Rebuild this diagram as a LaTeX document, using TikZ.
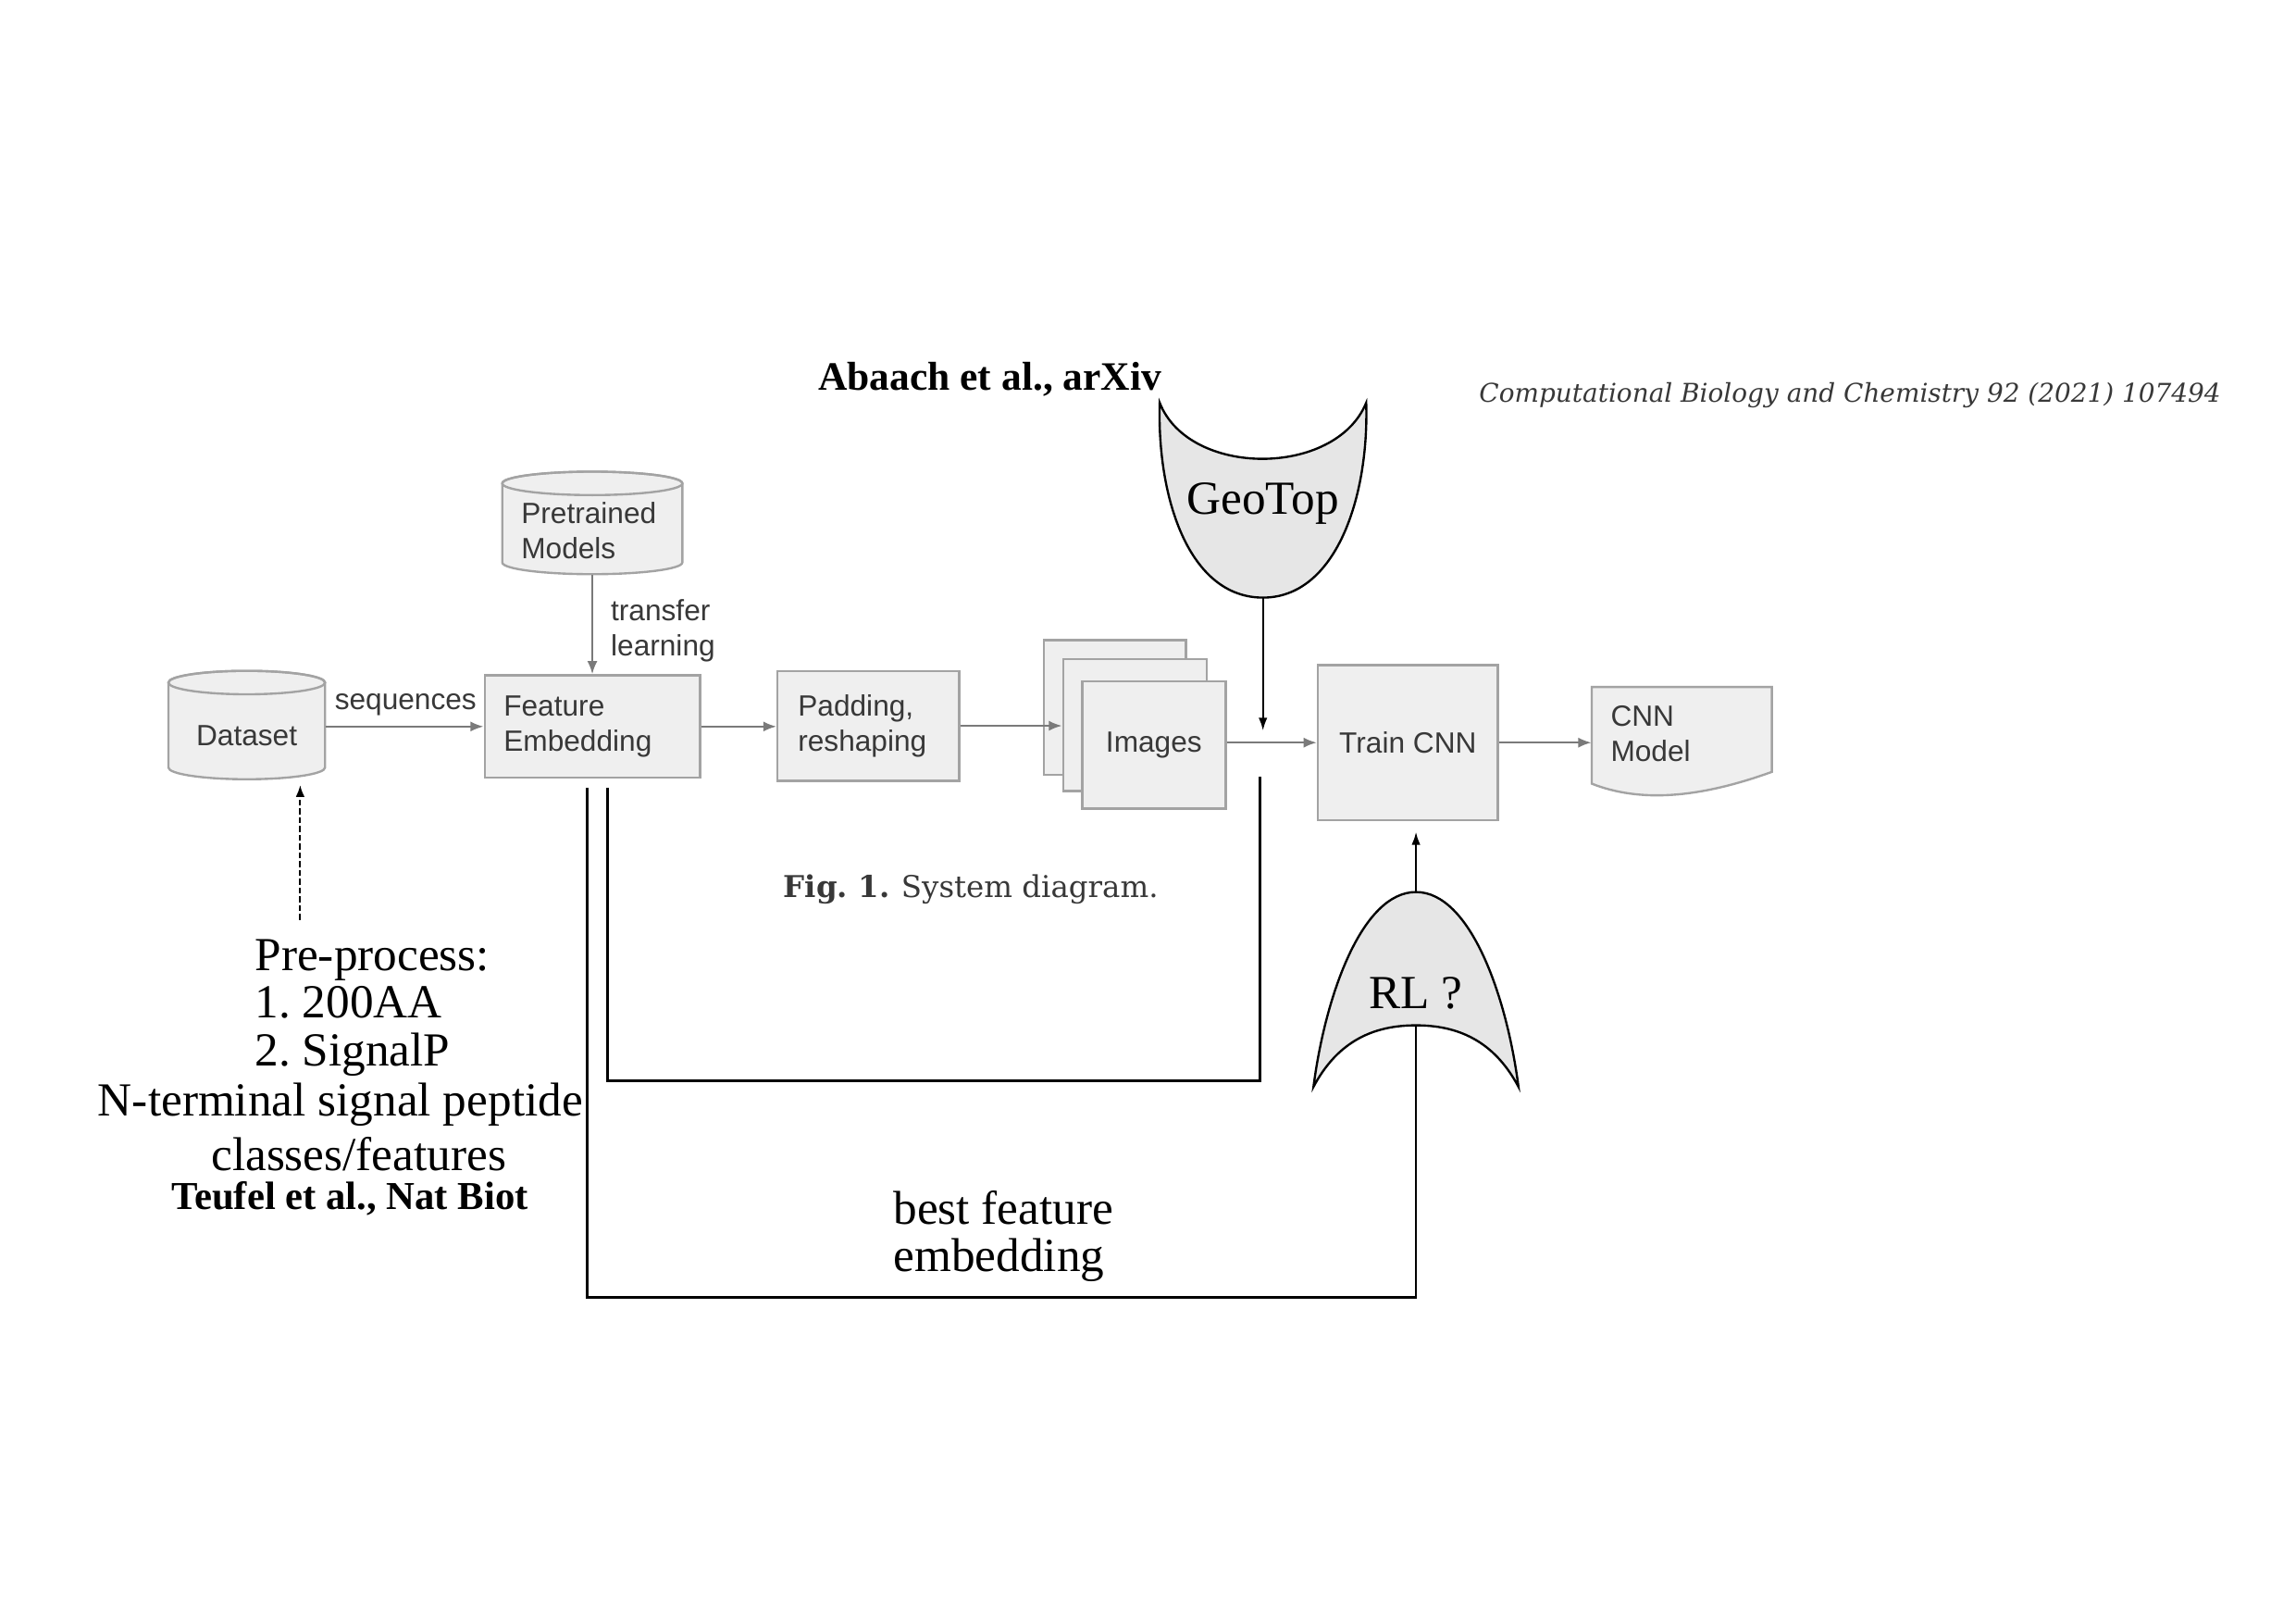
\documentclass[tikz,border=0pt]{standalone}
\usepackage{fontspec}
\setmainfont{Liberation Serif}
\setsansfont{Liberation Sans}
\newfontfamily\capfont{DejaVu Serif}
\usetikzlibrary{arrows.meta,calc}
\definecolor{boxfill}{HTML}{EFEFEF}
\definecolor{boxline}{HTML}{A3A3A3}
\definecolor{arrgray}{HTML}{7A7A7A}
\definecolor{txtgray}{HTML}{383838}
\definecolor{shapefill}{HTML}{E6E6E6}
\frenchspacing
\begin{document}
\begin{tikzpicture}[x=1pt,y=-1pt,
  box/.style={draw=boxline, fill=boxfill, line width=1.5pt, inner sep=0pt},
  sans/.style={font=\fontsize{20}{24}\selectfont\sffamily, text=txtgray},
  garrow/.style={draw=arrgray, line width=1.4pt, -{Latex[length=9pt,width=7pt]}},
  barrow/.style={draw=black, line width=1.5pt, -{Latex[length=9pt,width=6pt]}},
  bline/.style={draw=black, line width=1.6pt},
  serif/.style={font=\fontsize{32.4}{32.5}\selectfont, text=black, inner sep=0pt},
  shapeline/.style={draw=black, fill=shapefill, line width=1.5pt},
]
\useasboundingbox (0,0) rectangle (1568,1105.4);
\fill[white] (0,0) rectangle (1568,1105.4);

% cylinders
\path[box] (115,466) -- (115,524) arc[start angle=180,end angle=0,x radius=53.5,y radius=8] -- (222,466) arc[start angle=0,end angle=-180,x radius=53.5,y radius=8] -- cycle;
\draw[boxline, line width=1.5pt] (168.5,466) ellipse[x radius=53.5, y radius=8];
\path[box] (343,330) -- (343,384) arc[start angle=180,end angle=0,x radius=61.5,y radius=8] -- (466,330) arc[start angle=0,end angle=-180,x radius=61.5,y radius=8] -- cycle;
\draw[boxline, line width=1.5pt] (404.5,330) ellipse[x radius=61.5, y radius=8];

\node[sans, inner sep=0pt, minimum width=107pt, minimum height=60pt] (ds) at (168.5,502) {Dataset};
\node[sans, inner sep=0pt, minimum width=123pt, minimum height=60pt, text width=97pt, align=left] (pm) at (404.5,362) {Pretrained\\Models};

% boxes
\node[box, sans, minimum width=147pt, minimum height=70pt, text width=121pt, align=left] (fe) at (404.5,496) {Feature\\Embedding};
\node[box, sans, minimum width=124pt, minimum height=75pt, text width=96pt, align=left] (pad) at (593,495.5) {Padding,\\reshaping};
\node[box, minimum width=97pt, minimum height=92pt] (img3) at (761.5,483) {};
\node[box, minimum width=98pt, minimum height=90pt] (img2) at (775,495) {};
\node[box, sans, minimum width=98pt, minimum height=87pt] (img) at (788,508.5) {Images};
\node[box, sans, minimum width=123pt, minimum height=106pt] (tc) at (961.5,507) {Train CNN};

% CNN model document
\path[box] (1087,469) -- (1210,469) -- (1210,527) .. controls (1160,545) and (1120,548) .. (1087,535) -- cycle;
\node[sans, inner sep=0pt, minimum width=123pt, text width=97pt, align=left] (cnn) at (1148.5,501) {CNN\\Model};

% gray arrows
\draw[garrow] (ds.east |- fe.west) -- (fe.west);
\node[sans, anchor=south, inner sep=2pt] (seq) at (277,491) {sequences};
\draw[garrow] (pm.south) -- (fe.north);
\node[sans, anchor=west, align=left, inner sep=0pt] (tl) at (417,430.5) {transfer\\learning};
\draw[garrow] (fe.east) -- (fe.east -| pad.west);
\draw[garrow] (pad.east) -- (pad.east -| img2.west);
\draw[garrow] (img.east |- tc.west) -- (tc.west);
\draw[garrow] (tc.east) -- (tc.east -| cnn.west);

% caption and references
\node[font=\fontsize{20.5}{24}\selectfont\capfont, text=txtgray, anchor=west, inner sep=0pt] (cap) at (535,607) {\textbf{Fig. 1.}\hspace{8pt}System diagram.};
\node[font=\fontsize{17.65}{22}\selectfont\capfont\itshape, text=txtgray, anchor=west, inner sep=0pt] (jr) at (1010,270) {Computational Biology and Chemistry 92 (2021) 107494};
\node[font=\fontsize{27.5}{30}\selectfont\bfseries, inner sep=0pt] (ab) at (676,259) {Abaach et al., arXiv};

% GeoTop shape
\path[shapeline] (792,275) .. controls (812,326) and (912,326) .. (933,275) .. controls (935,340) and (912,408) .. (862.5,408) .. controls (812,408) and (790,340) .. (792,275) -- cycle;
\node[serif, minimum width=141pt, minimum height=129pt] (geo) at (862.5,343.5) {GeoTop};
\coordinate (geoin) at (862.5,499);
\draw[barrow] (geo.south) -- (geoin);

% RL shape
\path[shapeline] (897,742) .. controls (905,680) and (930,609) .. (967,609) .. controls (1004,609) and (1029,680) .. (1037,742) .. controls (1020,710) and (995,700) .. (967,700) .. controls (939,700) and (914,710) .. (897,742) -- cycle;
\node[serif, minimum width=140pt, minimum height=138pt] (rl) at (967,678) {RL ?};
\coordinate (rlin) at (967,700);
\draw[barrow, shorten >=7pt] (rl.north) -- (rl.north |- tc.south);

% black loops
\coordinate (loopA) at (860.5,530);
\draw[bline] ($(fe.south)+(10.5,6)$) -- ++(0,200) -| (loopA);
\draw[bline] ($(fe.south)+(-3.5,6)$) -- ++(0,348) -| (rlin);
\node[serif, anchor=west, align=left] (bfe) at (610,844) {best feature\\embedding};

% pre-process text
\node[serif, anchor=west, align=left] (pre) at (174,688) {Pre-process:\\1. 200AA\\2. SignalP};
\node[serif] (nt) at (232.5,754) {N-terminal signal peptide};
\node[serif] (cls) at (245,788) {classes/features};
\node[font=\fontsize{27}{30}\selectfont\bfseries, inner sep=0pt] (tf) at (239,818) {Teufel et al., Nat Biot};
\coordinate (dsin) at (205,536);
\draw[black, line width=1.2pt, dash pattern=on 4pt off 2pt, -{Latex[length=8pt,width=6pt]}] (205,628) -- (dsin);
\end{tikzpicture}
\end{document}
